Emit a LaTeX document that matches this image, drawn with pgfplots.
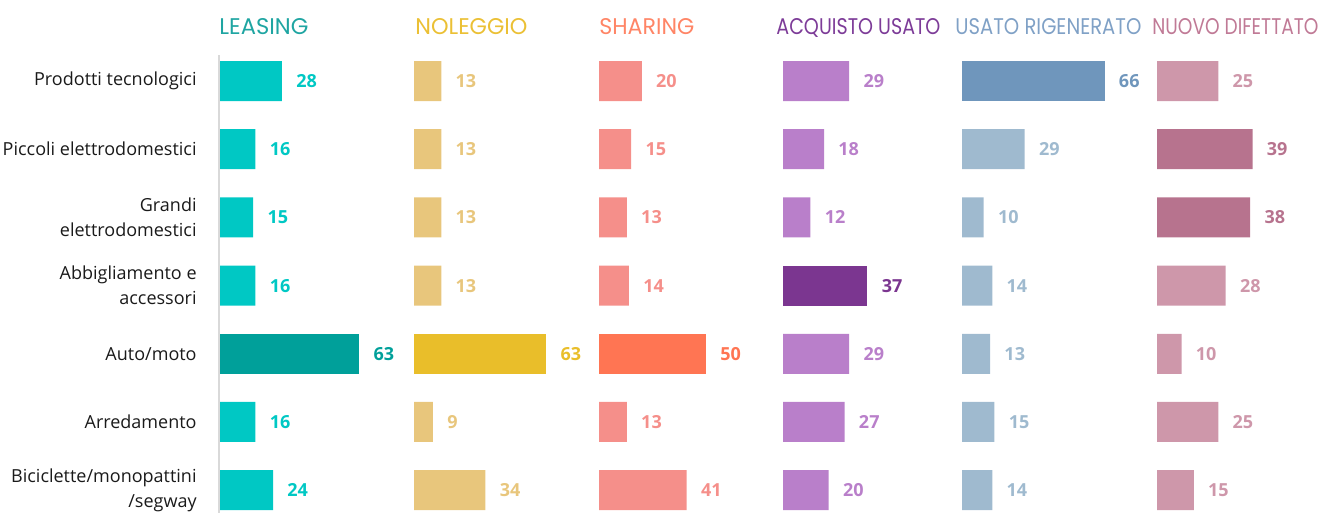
\documentclass[border=0pt]{standalone}
\usepackage{fontspec}
\setmainfont{Open Sans}
\newfontfamily\hfont{Poppins}
\usepackage{graphicx}
\usepackage{pgfplots}
\pgfplotsset{compat=1.18}
\definecolor{leaN}{HTML}{00C8C4}\definecolor{leaH}{HTML}{00A09A}\definecolor{leaT}{HTML}{1FA5A2}
\definecolor{nolN}{HTML}{E8C67C}\definecolor{nolH}{HTML}{E9BE2A}\definecolor{nolT}{HTML}{EBC035}
\definecolor{shaN}{HTML}{F58F8A}\definecolor{shaH}{HTML}{FF7553}\definecolor{shaT}{HTML}{FF8566}
\definecolor{acqN}{HTML}{B97FCA}\definecolor{acqH}{HTML}{7B3690}\definecolor{acqT}{HTML}{7D3C98}
\definecolor{usaN}{HTML}{9FBACF}\definecolor{usaH}{HTML}{6F96BC}\definecolor{usaT}{HTML}{80A1C6}
\definecolor{nuoN}{HTML}{CE97AA}\definecolor{nuoH}{HTML}{B7738E}\definecolor{nuoT}{HTML}{C07A96}
\definecolor{linegray}{HTML}{D9D9D9}
\definecolor{labtxt}{HTML}{1A1A1A}
\pgfplotsset{panel/.style={
  scale only axis, height=238.7pt, ymin=-0.5, ymax=6.5, y dir=reverse, xmin=0, xmax=80,
  axis line style={draw=none}, major tick length=0pt, xtick=\empty, ytick=\empty,
  xbar, bar width=20pt, clip=false, anchor=north west,
  /pgf/number format/assume math mode=true,
  nodes near coords, nodes near coords align=horizontal,
  every node near coord/.append style={font=\fontsize{9}{10}\selectfont\bfseries, anchor=west, inner sep=0pt, xshift=7pt},
}}
\begin{document}
\begin{tikzpicture}
\useasboundingbox (0,0) rectangle (660pt,-256.5pt);
% headers
\node[anchor=base west, inner sep=0pt, text=leaT] at (109.5pt,-17.5pt) {\resizebox{44.5pt}{8pt}{\hfont LEASING}};
\node[anchor=base west, inner sep=0pt, text=nolT] at (207.5pt,-17.5pt) {\resizebox{56pt}{8pt}{\hfont NOLEGGIO}};
\node[anchor=base west, inner sep=0pt, text=shaT] at (299.5pt,-17.5pt) {\resizebox{47.5pt}{8pt}{\hfont SHARING}};
\node[anchor=base west, inner sep=0pt, text=acqT] at (388pt,-17.5pt) {\resizebox{82pt}{8pt}{\hfont ACQUISTO USATO}};
\node[anchor=base west, inner sep=0pt, text=usaT] at (477.5pt,-17.5pt) {\resizebox{93pt}{8pt}{\hfont USATO RIGENERATO}};
\node[anchor=base west, inner sep=0pt, text=nuoT] at (576pt,-17.5pt) {\resizebox{83pt}{8pt}{\hfont NUOVO DIFETTATO}};
% LEASING
\begin{axis}[panel, width=88.4pt, at={(110pt,-23.45pt)},
  ytick={0,...,6},
  yticklabels={Prodotti tecnologici, Piccoli elettrodomestici, {Grandi\\elettrodomestici}, {Abbigliamento e\\accessori}, Auto/moto, Arredamento, {Biciclette/monopattini\\/segway}},
  yticklabel style={align=right, inner sep=0pt, xshift=-11.5pt, text=labtxt, font=\fontsize{9.0}{12.5}\selectfont}]
\addplot[fill=leaN, draw=none, bar shift=0pt, every node near coord/.append style={text=leaN}] coordinates {(28,0) (16,1) (15,2) (16,3) (16,5) (24,6)};
\addplot[fill=leaH, draw=none, bar shift=0pt, every node near coord/.append style={text=leaH}] coordinates {(63,4)};
\draw[linegray, line width=1pt] ([xshift=-0.5pt]axis cs:0,-0.38) -- ([xshift=-0.5pt]axis cs:0,6.6);
\end{axis}
% NOLEGGIO
\begin{axis}[panel, width=84pt, at={(207pt,-23.45pt)}]
\addplot[fill=nolN, draw=none, bar shift=0pt, every node near coord/.append style={text=nolN}] coordinates {(13,0) (13,1) (13,2) (13,3) (9,5) (34,6)};
\addplot[fill=nolH, draw=none, bar shift=0pt, every node near coord/.append style={text=nolH}] coordinates {(63,4)};
\end{axis}
% SHARING
\begin{axis}[panel, width=85.6pt, at={(299.5pt,-23.45pt)}]
\addplot[fill=shaN, draw=none, bar shift=0pt, every node near coord/.append style={text=shaN}] coordinates {(20,0) (15,1) (13,2) (14,3) (13,5) (41,6)};
\addplot[fill=shaH, draw=none, bar shift=0pt, every node near coord/.append style={text=shaH}] coordinates {(50,4)};
\end{axis}
% ACQUISTO USATO
\begin{axis}[panel, width=91.2pt, at={(391.5pt,-23.45pt)}]
\addplot[fill=acqN, draw=none, bar shift=0pt, every node near coord/.append style={text=acqN}] coordinates {(29,0) (18,1) (12,2) (29,4) (27,5) (20,6)};
\addplot[fill=acqH, draw=none, bar shift=0pt, every node near coord/.append style={text=acqH}] coordinates {(37,3)};
\end{axis}
% USATO RIGENERATO
\begin{axis}[panel, width=86.4pt, at={(481pt,-23.45pt)}]
\addplot[fill=usaN, draw=none, bar shift=0pt, every node near coord/.append style={text=usaN}] coordinates {(29,1) (10,2) (14,3) (13,4) (15,5) (14,6)};
\addplot[fill=usaH, draw=none, bar shift=0pt, every node near coord/.append style={text=usaH}] coordinates {(66,0)};
\end{axis}
% NUOVO DIFETTATO
\begin{axis}[panel, width=98pt, at={(578.5pt,-23.45pt)}]
\addplot[fill=nuoN, draw=none, bar shift=0pt, every node near coord/.append style={text=nuoN}] coordinates {(25,0) (28,3) (10,4) (25,5) (15,6)};
\addplot[fill=nuoH, draw=none, bar shift=0pt, every node near coord/.append style={text=nuoH}] coordinates {(39,1) (38,2)};
\end{axis}
\end{tikzpicture}
\end{document}
